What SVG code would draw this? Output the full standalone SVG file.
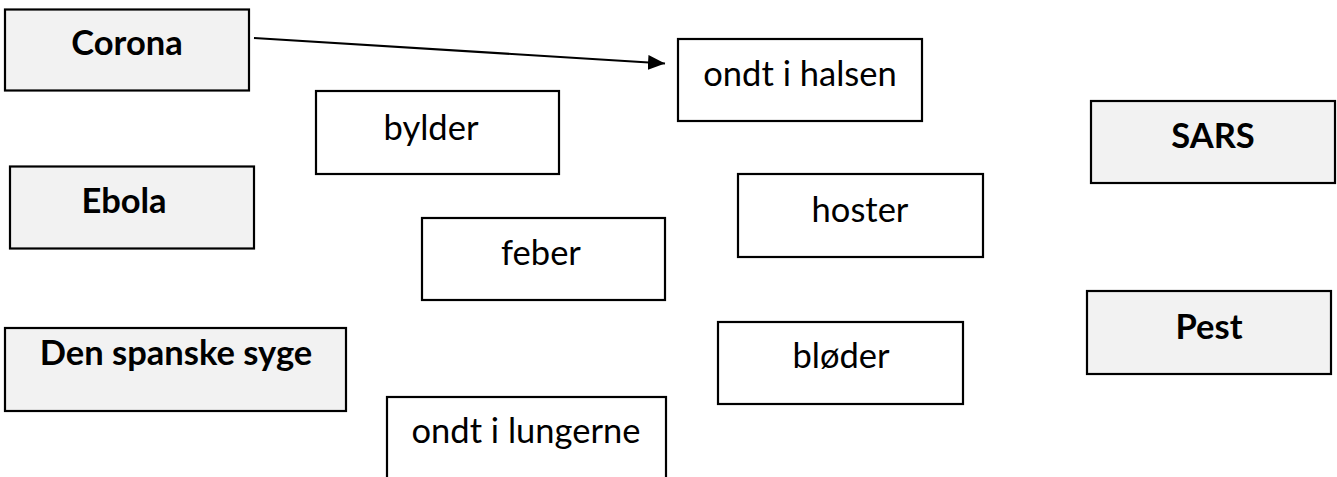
<svg xmlns="http://www.w3.org/2000/svg" width="1337" height="477" viewBox="0 0 1337 477">
<defs>
<style>
.box{stroke:#000;stroke-width:2.2}
.dis{fill:#f2f2f2}
.sym{fill:#fff}
text{font-family:"Lato","Open Sans",sans-serif;font-size:34.5px;fill:#000;text-anchor:middle}
.b{font-weight:bold}
</style>
<marker id="ah" markerWidth="18" markerHeight="16" refX="17" refY="7.5" orient="auto" markerUnits="userSpaceOnUse">
<path d="M0,0 L17,7.5 L0,15 Z" fill="#000"/>
</marker>
</defs>
<rect width="1337" height="477" fill="#fff"/>
<g id="connectors">
<line x1="254" y1="38" x2="665" y2="63.5" stroke="#000" stroke-width="2.2" marker-end="url(#ah)"/>
</g>
<g id="corona"><rect class="box dis" x="5" y="9.5" width="244" height="81"/><text class="b" x="127" y="55">Corona</text></g>
<g id="ebola"><rect class="box dis" x="10" y="166.5" width="244" height="82"/><text class="b" x="124" y="213">Ebola</text></g>
<g id="spanske"><rect class="box dis" x="5" y="328" width="341" height="83"/><text class="b" x="176" y="365">Den spanske syge</text></g>
<g id="sars"><rect class="box dis" x="1091" y="101" width="244" height="82"/><text class="b" x="1213" y="148">SARS</text></g>
<g id="pest"><rect class="box dis" x="1087" y="291" width="244" height="83"/><text class="b" x="1209" y="339">Pest</text></g>
<g id="halsen"><rect class="box sym" x="678" y="39" width="244" height="82"/><text x="800" y="86">ondt i halsen</text></g>
<g id="bylder"><rect class="box sym" x="316" y="91" width="243" height="83"/><text x="431" y="140">bylder</text></g>
<g id="feber"><rect class="box sym" x="422" y="218" width="243" height="82"/><text x="541" y="265">feber</text></g>
<g id="hoster"><rect class="box sym" x="738" y="174" width="245" height="83"/><text x="860" y="222">hoster</text></g>
<g id="bloeder"><rect class="box sym" x="718" y="322" width="245" height="82"/><text x="841" y="368">bløder</text></g>
<g id="lungerne"><rect class="box sym" x="387" y="397" width="279" height="90"/><text x="526" y="443">ondt i lungerne</text></g>
</svg>
